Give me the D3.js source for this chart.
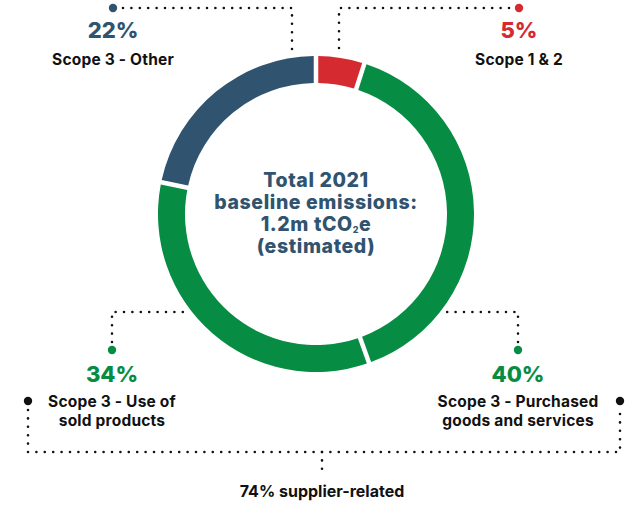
<!DOCTYPE html>
<html>
<head>
<meta charset="utf-8">
<script src="https://cdn.jsdelivr.net/npm/d3@7"></script>
<style>
  body { margin: 0; background: #fff; }
  text { font-family: 'Inter', 'Roboto', sans-serif; font-weight: 700; }
</style>
</head>
<body>
<div id="chart"></div>
<script>
// segments, clockwise from 12 o'clock
var categories = ["Scope 1 & 2", "Scope 3 - Purchased goods and services", "Scope 3 - Use of sold products", "Scope 3 - Other"];
var values = [5, 40, 34, 22];
var pctLabels = ["5%", "40%", "34%", "22%"];
var nameLines = [["Scope 1 & 2"], ["Scope 3 - Purchased", "goods and services"], ["Scope 3 - Use of", "sold products"], ["Scope 3 - Other"]];
var colors = ["#d52a30", "#078c44", "#078c44", "#30536f"];
var centerLines = ["Total 2021", "baseline emissions:", "1.2m tCO2e", "(estimated)"];
var groupLabel = "74% supplier-related";

var width = 636,
  height = 506;
var cx = 316, cy = 214, rOut = 158, rIn = 131;

var svg = d3.select("#chart")
  .append("svg")
  .attr("width", width)
  .attr("height", height);

var pie = d3.pie().sort(null).value(function(d) { return d; });
var arc = d3.arc().innerRadius(rIn).outerRadius(rOut).padAngle(0.022);

var g = svg.append("g").attr("transform", "translate(" + cx + "," + cy + ")");

g.selectAll("path")
  .data(pie(values))
  .enter()
  .append("path")
  .attr("d", arc)
  .attr("fill", function(d, i) { return colors[i]; });

// centre text: one text element, a tspan per line
var ct = g.append("text")
  .attr("text-anchor", "middle")
  .attr("fill", "#30536f")
  .style("font-size", "19.5px")
  .style("letter-spacing", "0.6px")
  .style("font-weight", 800);
centerLines.forEach(function(l, i) {
  var t = ct.append("tspan").attr("x", 0).attr("y", -27 + i * 22);
  if (l.indexOf("CO2") >= 0) {
    t.text("1.2m tCO");
    ct.append("tspan").text("2").style("font-size", "9px").attr("dy", 2);
    ct.append("tspan").text("e").attr("dy", -2);
  } else {
    t.text(l);
  }
});

// dotted leader helper
function dotted(points, stroke) {
  svg.append("path")
    .attr("d", d3.line()(points))
    .attr("fill", "none")
    .attr("stroke", stroke || "#111")
    .attr("stroke-width", 2.6)
    .attr("stroke-linecap", "round")
    .attr("stroke-dasharray", "0 8.4");
}

// where a vertical / horizontal leader meets the ring
function ringY(x) { return cy - Math.sqrt(rOut * rOut - (x - cx) * (x - cx)) - 2; }
function ringX(y, side) { return cx + side * (Math.sqrt(rOut * rOut - (y - cy) * (y - cy)) + 6); }

// label anchor positions (layout only)
var anchors = [
  { x: 519, dotY: 8, pctY: 38, nameY: 65, leader: "top", lx: 339 },
  { x: 518, dotY: 350, pctY: 382, nameY: 407, leader: "bottom", ly: 312 },
  { x: 112, dotY: 350, pctY: 382, nameY: 407, leader: "bottom", ly: 312 },
  { x: 113, dotY: 8, pctY: 38, nameY: 65, leader: "top", lx: 292 }
];

anchors.forEach(function(a, i) {
  if (a.leader === "top") {
    var dir = a.lx > a.x ? 1 : -1;
    dotted([[a.x + dir * 10, a.dotY], [a.lx, a.dotY], [a.lx, ringY(a.lx)]]);
  } else {
    var side = a.x > cx ? 1 : -1;
    dotted([[a.x, a.dotY - 8], [a.x, a.ly], [ringX(a.ly, side), a.ly]]);
  }
  svg.append("circle").attr("cx", a.x).attr("cy", a.dotY).attr("r", 4.2).attr("fill", colors[i]);
  svg.append("text")
    .attr("x", a.x).attr("y", a.pctY)
    .attr("text-anchor", "middle")
    .attr("fill", colors[i])
    .style("font-size", "22px")
    .style("font-weight", 800)
    .text(pctLabels[i]);
  var nt = svg.append("text")
    .attr("text-anchor", "middle")
    .attr("fill", "#111")
    .style("font-size", "15.5px")
    .style("letter-spacing", "0.2px");
  nameLines[i].forEach(function(l, j) {
    nt.append("tspan").attr("x", a.x).attr("y", a.nameY + j * 18.5).text(l);
  });
});

// supplier-related bracket
var bl = 28, br = 620, by = 452, bTop = 401;
dotted([[bl, bTop + 9], [bl, by], [br, by], [br, bTop + 9]]);
dotted([[322, by], [322, 474]]);
svg.append("circle").attr("cx", bl).attr("cy", bTop).attr("r", 4.2).attr("fill", "#111");
svg.append("circle").attr("cx", br).attr("cy", bTop).attr("r", 4.2).attr("fill", "#111");
svg.append("text")
  .attr("x", 322).attr("y", 497)
  .attr("text-anchor", "middle")
  .attr("fill", "#111")
  .style("font-size", "16px")
  .text(groupLabel);
</script>
</body>
</html>
